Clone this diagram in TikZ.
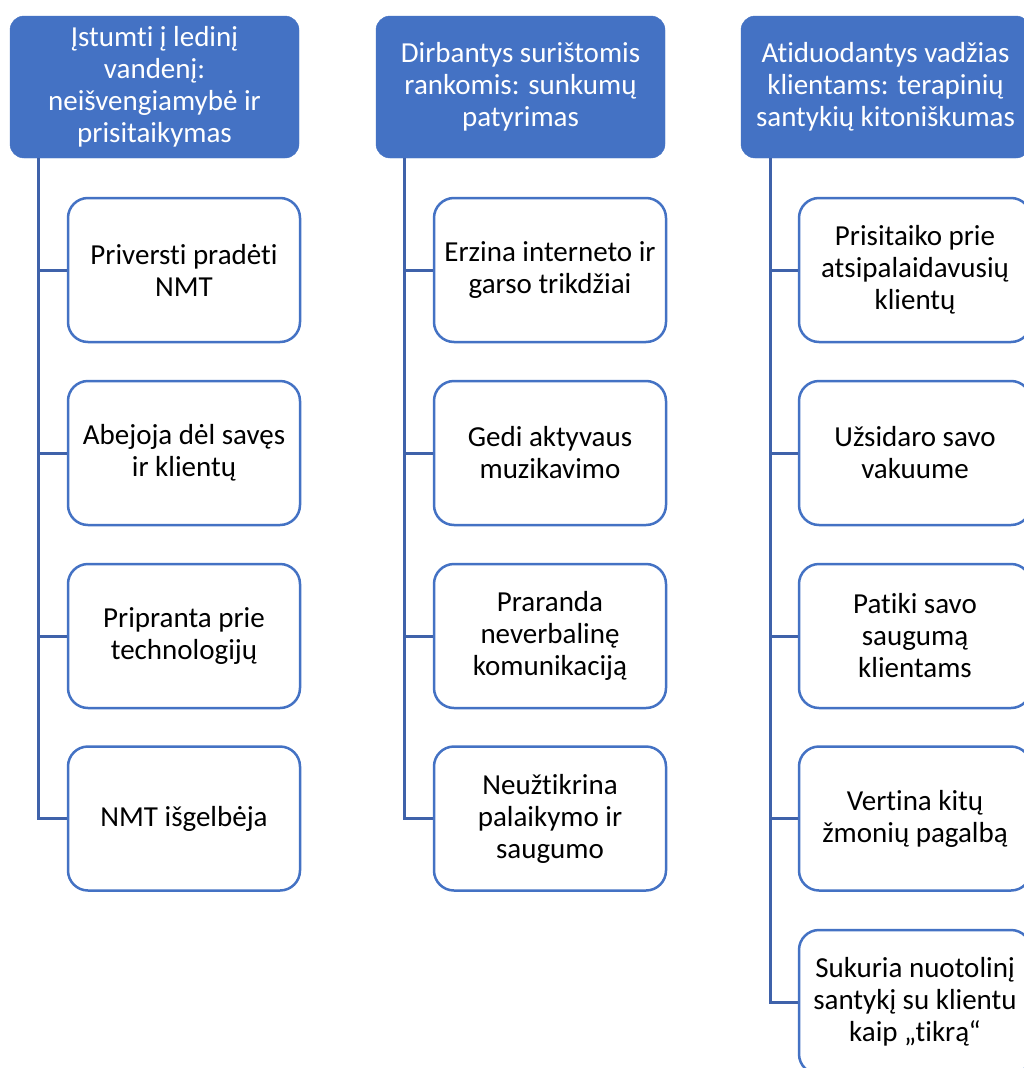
\documentclass[tikz,border=0pt]{standalone}
\usepackage{fontspec}
\setmainfont[Ligatures={NoCommon},RawFeature={-liga;-dlig}]{Carlito}
\definecolor{officeblue}{HTML}{4472C4}
\definecolor{linkblue}{HTML}{3F62AA}
\tikzset{head node/.style={rectangle,rounded corners=14pt,fill=officeblue,draw=officeblue,text=white,minimum width=289pt,minimum height=142pt,inner sep=0pt,align=center,font=\fontsize{29}{32}\selectfont},
  item node/.style={rectangle,rounded corners=20pt,fill=white,draw=officeblue,line width=2.5pt,minimum width=232pt,minimum height=144pt,inner sep=0pt,align=center,font=\fontsize{29}{32}\selectfont},
  link/.style={draw=linkblue,line width=3pt},}
\begin{document}
\begin{tikzpicture}[x=1pt,y=-1pt]
  \useasboundingbox (0,0) rectangle (1024,1068);
  \fill[white] (0,0) rectangle (1024,1068);
  %% Nodes
  \node[head node] (h1) at (154.5,87) {Įstumti į ledinį\\vandenį:\\neišvengiamybė ir\\prisitaikymas};
  \node[head node] (h2) at (520.5,87) {Dirbantys surištomis\\rankomis: sunkumų\\patyrimas};
  \node[head node] (h3) at (885.5,87) {Atiduodantys vadžias\\klientams: terapinių\\santykių kitoniškumas};
  \coordinate (t1) at (38,158);
  \coordinate (t2) at (404,158);
  \coordinate (t3) at (770,158);
  %% Paths
  \draw[link] (t1) -- (38,818.5) -- (67,818.5);
  \draw[link] (t2) -- (404,818.5) -- (433,818.5);
  \draw[link] (t3) -- (770,1002) -- (798,1002);
  \node[item node] (a1) at (184,270) {Priversti pradėti\\NMT};
  \node[item node] (a2) at (184,453) {Abejoja dėl savęs\\ir klientų};
  \node[item node] (a3) at (184,636) {Pripranta prie\\technologijų};
  \node[item node] (a4) at (184,818.5) {NMT išgelbėja};
  \node[item node] (b1) at (550,270) {Erzina interneto ir\\garso trikdžiai};
  \node[item node] (b2) at (550,453) {Gedi aktyvaus\\muzikavimo};
  \node[item node] (b3) at (550,636) {Praranda\\neverbalinę\\komunikaciją};
  \node[item node] (b4) at (550,818.5) {Neužtikrina\\palaikymo ir\\saugumo};
  \node[item node] (c1) at (915,270) {Prisitaiko prie\\atsipalaidavusių\\klientų};
  \node[item node] (c2) at (915,453) {Užsidaro savo\\vakuume};
  \node[item node] (c3) at (915,636) {Patiki savo\\saugumą\\klientams};
  \node[item node] (c4) at (915,818.5) {Vertina kitų\\žmonių pagalbą};
  \node[item node] (c5) at (915,1002) {Sukuria nuotolinį\\santykį su klientu\\kaip „tikrą“};
  \path[link]
    (t1) |- (a1.west) (t1) |- (a2.west) (t1) |- (a3.west)
    (t2) |- (b1.west) (t2) |- (b2.west) (t2) |- (b3.west)
    (t3) |- (c1.west) (t3) |- (c2.west) (t3) |- (c3.west) (t3) |- (c4.west);
\end{tikzpicture}
\end{document}
